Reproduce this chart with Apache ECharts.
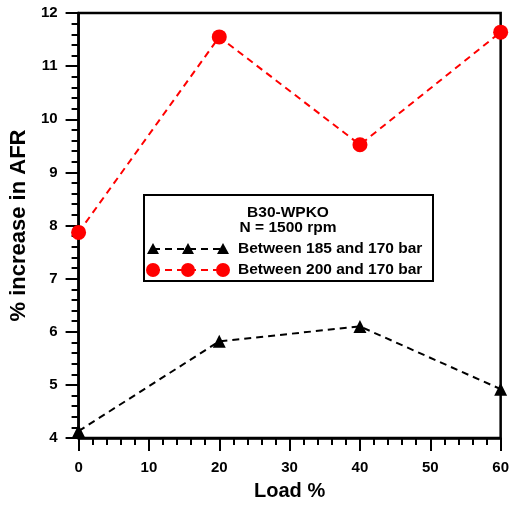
<!DOCTYPE html>
<html>
<head>
<meta charset="utf-8">
<script src="https://cdn.jsdelivr.net/npm/echarts@6/dist/echarts.min.js"></script>
<style>html,body{margin:0;padding:0;background:#fff}#c{width:512px;height:506px}</style>
</head>
<body>
<div id="c"></div>
<script>
const loads = [0, 20, 40, 60];
const afr185 = [4.13, 5.82, 6.10, 4.92];
const afr200 = [7.87, 11.55, 9.52, 11.64];
const legendTitle = ['B30-WPKO', 'N = 1500 rpm'];
const seriesNames = ['Between 185 and 170 bar', 'Between 200 and 170 bar'];

const FONT = '"Liberation Sans", Arial, sans-serif';
const chart = echarts.init(document.getElementById('c'));

function legendMarkers(y, color, type) {
  const els = [];
  const xs = [153, 188, 223];
  els.push({type: 'line', z: 11, shape: {x1: xs[0], y1: y, x2: xs[2], y2: y},
    style: {stroke: color, lineWidth: 2, lineDash: [7, 5]}});
  xs.forEach(x => {
    if (type === 'circle') {
      els.push({type: 'circle', z: 12, shape: {cx: x, cy: y, r: 7}, style: {fill: color}});
    } else {
      els.push({type: 'polygon', z: 12, shape: {points: [[x, y - 6], [x - 6, y + 5], [x + 6, y + 5]]}, style: {fill: color}});
    }
  });
  return els;
}
function txt(x, y, s, align) {
  return {type: 'text', z: 12, x: x, y: y,
    style: {text: s, fontFamily: FONT, fontWeight: 'bold', fontSize: 15.5, fill: '#000', align: align, verticalAlign: 'middle'}};
}

chart.setOption({
  animation: false,
  backgroundColor: '#fff',
  grid: {left: 78, right: 11, top: 13, bottom: 67, show: true, borderColor: '#000', borderWidth: 2.5, backgroundColor: 'transparent'},
  xAxis: {
    type: 'value', min: 0, max: 60, interval: 10,
    name: 'Load %', nameLocation: 'middle', nameGap: 43,
    nameTextStyle: {fontFamily: FONT, fontWeight: 'bold', fontSize: 20, color: '#000'},
    axisLine: {lineStyle: {color: '#000', width: 2.5}},
    axisTick: {length: 13, lineStyle: {width: 2, color: '#000'}},
    minorTick: {show: true, splitNumber: 5, length: 7, lineStyle: {width: 2, color: '#000'}},
    splitLine: {show: false},
    axisLabel: {fontFamily: FONT, fontWeight: 'bold', fontSize: 15, color: '#000', margin: 22}
  },
  yAxis: {
    type: 'value', min: 4, max: 12, interval: 1,
    name: '% increase in AFR', nameLocation: 'middle', nameGap: 47,
    nameTextStyle: {fontFamily: FONT, fontWeight: 'bold', fontSize: 22, color: '#000'},
    axisLine: {lineStyle: {color: '#000', width: 2.5}},
    axisTick: {length: 13, lineStyle: {width: 2, color: '#000'}},
    minorTick: {show: true, splitNumber: 5, length: 7, lineStyle: {width: 2, color: '#000'}},
    splitLine: {show: false},
    axisLabel: {fontFamily: FONT, fontWeight: 'bold', fontSize: 15, color: '#000', margin: 21}
  },
  series: [
    {
      name: seriesNames[0], type: 'line',
      data: loads.map((x, i) => [x, afr185[i]]),
      symbol: 'triangle', symbolSize: 13,
      itemStyle: {color: '#000'},
      lineStyle: {color: '#000', width: 2, type: [7, 5]},
      z: 3
    },
    {
      name: seriesNames[1], type: 'line',
      data: loads.map((x, i) => [x, afr200[i]]),
      symbol: 'circle', symbolSize: 15,
      itemStyle: {color: '#ff0000'},
      lineStyle: {color: '#ff0000', width: 2, type: [7, 5]},
      z: 3
    }
  ],
  graphic: [
    {type: 'rect', z: 10, shape: {x: 144, y: 195, width: 289, height: 86},
      style: {fill: '#fff', stroke: '#000', lineWidth: 2}},
    txt(288, 213, legendTitle[0], 'center'),
    txt(288, 228, legendTitle[1], 'center'),
    txt(238, 249, seriesNames[0], 'left'),
    txt(238, 270, seriesNames[1], 'left'),
    ...legendMarkers(249, '#000', 'triangle'),
    ...legendMarkers(270, '#ff0000', 'circle')
  ]
});
</script>
</body>
</html>
